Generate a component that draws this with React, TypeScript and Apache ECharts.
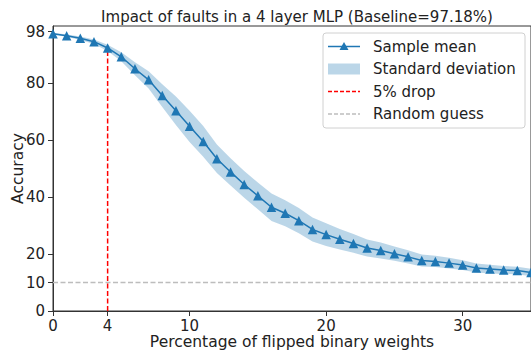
import React, { useEffect, useRef } from "react";
import * as echarts from "echarts";

const flipPct = [0, 1, 2, 3, 4, 5, 6, 7, 8, 9, 10, 11, 12, 13, 14, 15, 16, 17, 18, 19, 20, 21, 22, 23, 24, 25, 26, 27, 28, 29, 30, 31, 32, 33, 34, 35];
const meanAcc = [97.3, 96.6, 95.7, 94.5, 92.3, 89.2, 85.0, 81.1, 75.6, 70.3, 64.8, 59.5, 53.4, 48.8, 44.4, 40.4, 36.4, 34.3, 31.7, 28.6, 26.8, 25.2, 23.7, 22.1, 21.2, 20.1, 19.0, 17.7, 17.4, 16.8, 16.1, 15.1, 14.7, 14.4, 14.2, 13.5];
const stdAcc = [0.3, 0.4, 0.6, 0.8, 1.1, 1.6, 2.3, 3.0, 4.0, 5.0, 5.5, 5.4, 5.0, 4.8, 4.7, 4.7, 4.8, 4.6, 4.4, 4.2, 4.0, 3.6, 3.3, 3.0, 2.8, 2.5, 2.3, 2.1, 2.0, 1.9, 1.7, 1.6, 1.5, 1.4, 1.3, 1.3];
const xTicks = [0, 4, 10, 20, 30];
const yTicks = [0, 10, 20, 40, 60, 80, 98];
const dropX = 4;
const dropY = 92.3;
const randomGuess = 10;
const xMax = 35;

const FONT = "DejaVu Sans";
const BLUE = "#1f77b4";
const BAND = "rgba(31,119,180,0.3)";
const TXT = "#222";
const RED = "#ff0000";
const GRAY = "#bdbdbd";

export default function App() {
  const ref = useRef<HTMLDivElement>(null);
  useEffect(() => {
    if (!ref.current) return;
    const chart = echarts.init(ref.current, undefined, { renderer: "svg" });
    const bandData = flipPct.map((x, i) => [x, meanAcc[i] - stdAcc[i], meanAcc[i] + stdAcc[i]]);
    const legendX = 328;
    const rows = [46.5, 69, 91.5, 114];
    chart.setOption({
      animation: false,
      textStyle: { fontFamily: FONT },
      title: {
        text: "Impact of faults in a 4 layer MLP (Baseline=97.18%)",
        left: 292,
        top: 4,
        textAlign: "center",
        textStyle: { fontFamily: FONT, fontSize: 15, fontWeight: "normal", color: TXT },
      },
      grid: {
        left: 53, top: 26, right: 0, bottom: 43,
        containLabel: false,
        outerBoundsMode: "none",
        show: true, borderColor: "#333", borderWidth: 1, backgroundColor: "transparent",
      },
      xAxis: {
        type: "value",
        min: 0,
        max: xMax,
        name: "Percentage of flipped binary weights",
        nameLocation: "middle",
        nameMoveOverlap: false,
        nameGap: 23,
        nameTextStyle: { fontFamily: FONT, fontSize: 15.5, color: TXT, verticalAlign: "top" },
        axisLine: { show: true, lineStyle: { color: "#333", width: 1 } },
        axisTick: { show: true, length: 5, lineStyle: { color: "#333" }, customValues: xTicks },
        axisLabel: { fontFamily: FONT, fontSize: 15, color: TXT, margin: 7, customValues: xTicks },
        splitLine: { show: false },
      },
      yAxis: {
        type: "value",
        min: 0,
        max: 100,
        name: "Accuracy",
        nameLocation: "middle",
        nameMoveOverlap: false,
        nameGap: 27,
        nameTextStyle: { fontFamily: FONT, fontSize: 15.5, color: TXT },
        axisLine: { show: true, lineStyle: { color: "#333", width: 1 } },
        axisTick: { show: true, length: 5, lineStyle: { color: "#333" }, customValues: yTicks },
        axisLabel: { fontFamily: FONT, fontSize: 15, color: TXT, margin: 8, customValues: yTicks },
        splitLine: { show: false },
      },
      series: [
        {
          type: "custom",
          name: "Standard deviation",
          z: 1,
          data: bandData,
          renderItem: (params: any, api: any) => {
            if (params.dataIndex !== 0) return null;
            const upper = bandData.map((d) => api.coord([d[0], d[2]]));
            const lower = bandData.map((d) => api.coord([d[0], d[1]])).reverse();
            return {
              type: "polygon",
              shape: { points: upper.concat(lower) },
              style: { fill: BAND, stroke: "none" },
            };
          },
        },
        {
          type: "line",
          name: "Random guess",
          z: 2,
          data: [[0, randomGuess], [xMax, randomGuess]],
          symbol: "none",
          lineStyle: { color: GRAY, width: 1.3, type: [5, 2.5] },
        },
        {
          type: "line",
          name: "5% drop",
          z: 3,
          data: [[dropX, 0], [dropX, dropY]],
          symbol: "none",
          lineStyle: { color: RED, width: 1.5, type: [5, 2.5] },
        },
        {
          type: "line",
          name: "Sample mean",
          z: 4,
          data: flipPct.map((x, i) => [x, meanAcc[i]]),
          symbol: "triangle",
          symbolSize: 9.5,
          showAllSymbol: true,
          itemStyle: { color: BLUE },
          lineStyle: { color: BLUE, width: 1.5 },
        },
      ],
      graphic: [
        {
          type: "rect",
          shape: { x: 323, y: 33, width: 202, height: 95, r: 3 },
          style: { fill: "rgba(255,255,255,0.8)", stroke: "#d0d0d0", lineWidth: 1 },
          z: 10,
        },
        { type: "line", shape: { x1: legendX, y1: rows[0], x2: legendX + 32, y2: rows[0] }, style: { stroke: BLUE, lineWidth: 1.5 }, z: 11 },
        {
          type: "polygon",
          shape: { points: [[legendX + 16, rows[0] - 4.5], [legendX + 20.5, rows[0] + 3.5], [legendX + 11.5, rows[0] + 3.5]] },
          style: { fill: BLUE },
          z: 11,
        },
        { type: "rect", shape: { x: legendX, y: rows[1] - 5.5, width: 32, height: 11 }, style: { fill: BAND }, z: 11 },
        { type: "line", shape: { x1: legendX, y1: rows[2], x2: legendX + 32, y2: rows[2] }, style: { stroke: RED, lineWidth: 1.5, lineDash: [4, 2] }, z: 11 },
        { type: "line", shape: { x1: legendX, y1: rows[3], x2: legendX + 32, y2: rows[3] }, style: { stroke: GRAY, lineWidth: 1.5, lineDash: [4, 2] }, z: 11 },
        ...["Sample mean", "Standard deviation", "5% drop", "Random guess"].map((t, i) => ({
          type: "text",
          x: 373,
          y: rows[i],
          z: 11,
          style: { text: t, fontFamily: FONT, fontSize: 15, fill: TXT, textVerticalAlign: "middle", textAlign: "left" },
        })),
      ],
    });
    return () => chart.dispose();
  }, []);
  return <div ref={ref} style={{ width: 531, height: 354, position: "absolute", left: 0, top: 0 }} />;
}
